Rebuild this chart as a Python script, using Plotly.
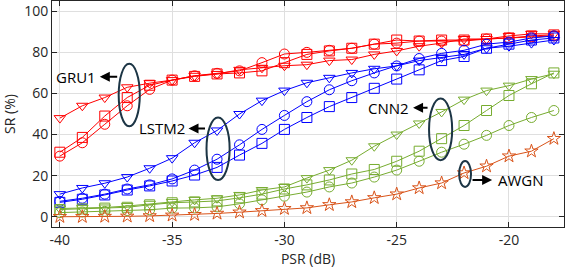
import plotly.graph_objects as go

psr = [-40, -39, -38, -37, -36, -35, -34, -33, -32, -31, -30, -29, -28, -27, -26, -25, -24, -23, -22, -21, -20, -19, -18]

gru_tri = [48, 54, 58, 63, 65, 66.5, 68.6, 69.5, 71.5, 72.5, 73.5, 74, 76, 76.5, 79, 80.7, 83, 84.5, 86.5, 86.5, 88, 89, 89]
gru_sq = [31.4, 38.6, 49, 58, 64, 66.5, 68.3, 69.5, 70, 71, 75, 79, 80.7, 82, 84, 86, 85.5, 86, 86, 86.5, 87, 88, 88.5]
gru_ci = [29.5, 36, 45, 54, 62, 66.5, 68.6, 69.8, 71, 75, 79.2, 80, 81, 82, 84, 84.5, 85.5, 85.5, 85.5, 86.5, 87, 87.5, 88]

lstm_tri = [11, 14, 16.3, 19.3, 23.6, 28.5, 36, 42, 50, 56.5, 61.4, 65.2, 67.6, 70, 72, 73.4, 76, 77.5, 79, 82, 83, 84.5, 86]
lstm_ci = [7.5, 9, 11, 13.5, 15.5, 18.4, 22.7, 28, 35, 42.5, 49.3, 56, 61.8, 66.2, 70, 73.4, 77, 79.5, 81, 84, 85, 87, 88]
lstm_sq = [7, 8.5, 10.6, 13, 15, 17.4, 20.3, 24, 30, 35.7, 42.5, 48.3, 53.6, 58, 62.5, 67, 71.5, 76, 78, 82, 84, 86, 87]

cnn_tri = [4, 4.2, 4.5, 5.2, 6.3, 7.2, 8.2, 9, 10.6, 13, 14.5, 18.8, 22.7, 27.5, 34.3, 40, 45.4, 51, 57, 61.4, 63.8, 67, 69.6]
cnn_sq = [3.5, 3.8, 4.2, 4.6, 5.8, 6.8, 7.2, 7.7, 9.2, 11, 13.5, 15.5, 17.9, 20.8, 23, 27, 31.9, 38, 44.4, 51.7, 59, 64.7, 70]
cnn_ci = [2, 2.3, 2.6, 3, 3.4, 4.2, 4.3, 4.8, 6.3, 8.2, 10, 12, 14.5, 16.4, 19.3, 22.7, 27, 31.4, 35.3, 39.6, 44.4, 48.3, 51.7]

awgn = [0, 0, 0.1, 0.2, 0.4, 0.7, 1, 1.6, 2.2, 2.9, 3.9, 4.3, 5.8, 7.2, 9.2, 11, 14, 16.4, 21.3, 24.6, 29.5, 31.9, 38]

x_ticks = [-40, -35, -30, -25, -20]
y_ticks = [0, 20, 40, 60, 80, 100]

RED = "#FF0000"
BLUE = "#0000FF"
GREEN = "#77AC30"
ORANGE = "#D95319"
DARK = "#1C3545"
FONT = "Open Sans, sans-serif"

series = [
    (gru_tri, RED, "triangle-down-open", "GRU1"),
    (gru_sq, RED, "square-open", "GRU1"),
    (gru_ci, RED, "circle-open", "GRU1"),
    (lstm_tri, BLUE, "triangle-down-open", "LSTM2"),
    (lstm_ci, BLUE, "circle-open", "LSTM2"),
    (lstm_sq, BLUE, "square-open", "LSTM2"),
    (cnn_tri, GREEN, "triangle-down-open", "CNN2"),
    (cnn_sq, GREEN, "square-open", "CNN2"),
    (cnn_ci, GREEN, "circle-open", "CNN2"),
    (awgn, ORANGE, "star-open", "AWGN"),
]

fig = go.Figure()
for ys, col, sym, name in series:
    fig.add_trace(go.Scatter(
        x=psr, y=ys, mode="lines+markers", name=name,
        line=dict(color=col, width=1),
        marker=dict(symbol=sym, size=10, color=col, line=dict(color=col, width=1)),
        showlegend=False,
    ))

# ellipses
ellipses = [
    (-37.38, -36.44, 44.0, 74.4),
    (-33.47, -32.44, 17.9, 48.3),
    (-23.56, -22.53, 27.5, 57.5),
    (-22.22, -21.69, 14.5, 27.1),
]
for x0, x1, y0, y1 in ellipses:
    fig.add_shape(type="circle", xref="x", yref="y", x0=x0, x1=x1, y0=y0, y1=y1,
                  line=dict(color=DARK, width=2))

labels = [
    ("GRU1", -38.31, 68.1, "right", -38.22, -37.38),
    ("LSTM2", -34.36, 43.0, "right", -34.27, -33.47),
    ("CNN2", -24.36, 53.1, "right", -24.27, -23.56),
    ("AWGN", -20.58, 17.9, "left", -20.75, -21.69),
]
for txt, tx, ty, anchor, hx, tailx in labels:
    fig.add_annotation(x=tx, y=ty, text=txt, showarrow=False, xanchor=anchor, yanchor="middle",
                       font=dict(family=FONT, size=15, color="black"))
    fig.add_annotation(x=hx, y=ty, ax=tailx, ay=ty, axref="x", ayref="y", xref="x", yref="y",
                       text="", showarrow=True, arrowhead=2, arrowsize=1, arrowwidth=2,
                       arrowcolor="black")

axis_common = dict(
    showline=True, linecolor="#262626", linewidth=1, mirror="ticks",
    ticks="inside", ticklen=5, tickcolor="#262626",
    showgrid=True, gridcolor="#DFDFDF", gridwidth=1, zeroline=False,
    tickfont=dict(family=FONT, size=14, color="#262626"),
)

fig.update_layout(
    width=565, height=269,
    margin=dict(l=52, r=1, t=1, b=42),
    paper_bgcolor="white", plot_bgcolor="white",
    xaxis=dict(range=[-40.35, -17.55], tickvals=x_ticks, ticktext=[str(v) for v in x_ticks],
               title=dict(text="PSR (dB)", standoff=2,
                          font=dict(family=FONT, size=14, color="#262626")),
               **axis_common),
    yaxis=dict(range=[-5, 105], tickvals=y_ticks, ticktext=[str(v) for v in y_ticks],
               title=dict(text="SR (%)", standoff=6,
                          font=dict(family=FONT, size=14, color="#262626")),
               **axis_common),
)

fig.write_html("out.html", config={"displayModeBar": False},
               post_script="document.body.style.margin='0';document.body.style.padding='0';")
